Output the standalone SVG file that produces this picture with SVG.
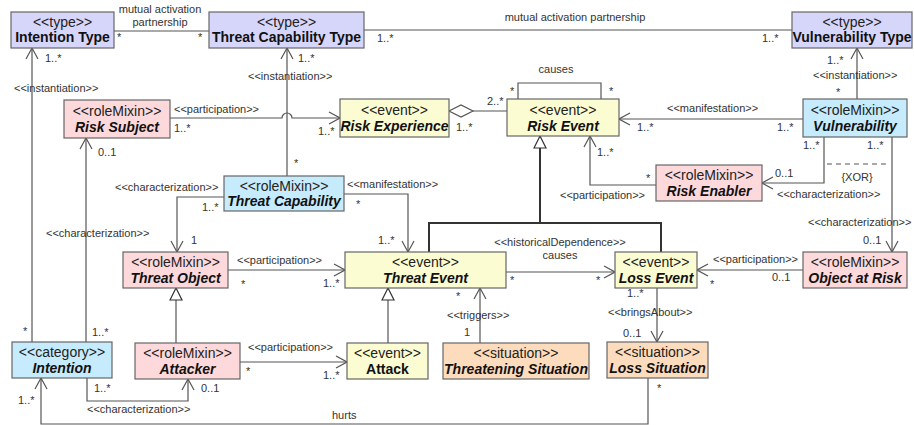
<svg xmlns="http://www.w3.org/2000/svg" width="914" height="425" viewBox="0 0 914 425">
  <style>
    .box { stroke: #666; stroke-width: 1.2; }
    .type { fill: #d6d6fa; }
    .role { fill: #fdd9dc; }
    .event { fill: #fcfcd2; }
    .cat { fill: #c6ebfc; }
    .sit { fill: #fddcbd; }
    .st { font-family: "Liberation Sans", Arial, sans-serif; font-size: 14px; fill: #222; text-anchor: middle; }
    .nm { font-family: "Liberation Sans", Arial, sans-serif; font-size: 14px; font-weight: bold; fill: #111; text-anchor: middle; }
    .it { font-style: italic; }
    .ln { fill: none; stroke: #555; stroke-width: 1.2; }
    .gen { fill: none; stroke: #333; stroke-width: 2; }
    .lb { font-family: "Liberation Sans", Arial, sans-serif; font-size: 11px; fill: #333; }
    .c { text-anchor: middle; }
  </style>
  <defs>
    <marker id="open" markerUnits="userSpaceOnUse" markerWidth="13" markerHeight="14" viewBox="0 0 13 14" refX="12" refY="7" orient="auto">
      <path d="M1,1 L12,7 L1,13" fill="none" stroke="#555" stroke-width="1.2"/>
    </marker>
    <marker id="tri" markerUnits="userSpaceOnUse" markerWidth="14" markerHeight="14" viewBox="0 0 14 14" refX="13" refY="7" orient="auto">
      <path d="M1,1 L13,7 L1,13 Z" fill="#fff" stroke="#333" stroke-width="1.2"/>
    </marker>
  </defs>

  <!-- connectors -->
  <g id="connectors">
    <path class="ln" d="M114,31 H209"/>
    <path class="ln" d="M364,30 H792"/>
    <path class="ln" d="M32,342 V48" marker-end="url(#open)"/>
    <path class="ln" d="M287,176 V48" marker-end="url(#open)"/>
    <path class="ln" d="M857,99 V48" marker-end="url(#open)"/>
    <path class="ln" d="M170,118 H282 A5,5 0 0 1 292,118 H340" marker-end="url(#open)"/>
    <path class="ln" d="M473,111 H507"/>
    <polygon points="449,111 461,105 473,111 461,117" fill="#fff" stroke="#555" stroke-width="1.2"/>
    <path class="ln" d="M518,99 V83 H601 V99"/>
    <path class="ln" d="M803,119 H619" marker-end="url(#open)"/>
    <path class="ln" d="M656,185 H590 V136" marker-end="url(#open)"/>
    <path class="ln" d="M824,137 V183 H762" marker-end="url(#open)"/>
    <path class="ln" d="M892,137 V252" marker-end="url(#open)"/>
    <path class="ln" d="M827,164 H886" stroke-dasharray="5,4"/>
    <path class="ln" d="M803,270 H697" marker-end="url(#open)"/>
    <path class="ln" d="M506,272 H615" marker-end="url(#open)"/>
    <path class="gen" d="M540,223 V136" marker-end="url(#tri)"/>
    <path class="gen" d="M429,252 V223 H661 V252"/>
    <path class="ln" d="M344,194 H408 V252" marker-end="url(#open)"/>
    <path class="ln" d="M224,197 H177 V252" marker-end="url(#open)"/>
    <path class="ln" d="M228,270 H345" marker-end="url(#open)"/>
    <path class="ln" d="M176,343 V288" marker-end="url(#tri)"/>
    <path class="ln" d="M240,362 H347" marker-end="url(#open)"/>
    <path class="ln" d="M388,343 V288" marker-end="url(#tri)"/>
    <path class="ln" d="M480,343 V288" marker-end="url(#open)"/>
    <path class="ln" d="M657,288 V342" marker-end="url(#open)"/>
    <path class="ln" d="M648,378 V424 H41 V378" marker-end="url(#open)"/>
    <path class="ln" d="M86,342 V138" marker-end="url(#open)"/>
    <path class="ln" d="M87,378 V401 H188 V379" marker-end="url(#open)"/>
  </g>

  <!-- connector labels and multiplicities -->
  <g id="connector-labels" class="lb">
    <text x="160" y="13" class="c">mutual activation</text>
    <text x="160" y="26" class="c">partnership</text>
    <text x="117" y="41">*</text>
    <text x="198" y="41">*</text>
    <text x="575" y="21" class="c">mutual activation partnership</text>
    <text x="377" y="42">1..*</text>
    <text x="762" y="42">1..*</text>

    <text x="45" y="62">1..*</text>
    <text x="14" y="92">&lt;&lt;instantiation&gt;&gt;</text>
    <text x="23" y="335">*</text>

    <text x="298" y="62">1..*</text>
    <text x="248" y="80">&lt;&lt;instantiation&gt;&gt;</text>
    <text x="294" y="167">*</text>

    <text x="827" y="64">1..*</text>
    <text x="813" y="79">&lt;&lt;instantiation&gt;&gt;</text>
    <text x="836" y="96">*</text>

    <text x="174" y="113">&lt;&lt;participation&gt;&gt;</text>
    <text x="174" y="132">1..*</text>
    <text x="318" y="135">1..*</text>

    <text x="487" y="105">2..*</text>
    <text x="456" y="131">1..*</text>

    <text x="556" y="73" class="c">causes</text>
    <text x="510" y="95">*</text>
    <text x="609" y="95">*</text>

    <text x="667" y="112">&lt;&lt;manifestation&gt;&gt;</text>
    <text x="637" y="131">1..*</text>
    <text x="777" y="131">1..*</text>

    <text x="597" y="156">1..*</text>
    <text x="646" y="182">*</text>
    <text x="560" y="199">&lt;&lt;participation&gt;&gt;</text>

    <text x="803" y="149">1..*</text>
    <text x="775" y="177">0..1</text>
    <text x="777" y="198">&lt;&lt;characterization&gt;&gt;</text>

    <text x="867" y="149">1..*</text>
    <text x="857" y="181" class="c">{XOR}</text>
    <text x="808" y="226">&lt;&lt;characterization&gt;&gt;</text>
    <text x="863" y="244">0..1</text>

    <text x="713" y="263">&lt;&lt;participation&gt;&gt;</text>
    <text x="772" y="281">0..1</text>
    <text x="710" y="288">*</text>

    <text x="560" y="246" class="c">&lt;&lt;historicalDependence&gt;&gt;</text>
    <text x="560" y="259" class="c">causes</text>
    <text x="510" y="284">*</text>
    <text x="596" y="284">*</text>

    <text x="347" y="188">&lt;&lt;manifestation&gt;&gt;</text>
    <text x="356" y="208">*</text>
    <text x="378" y="244">1..*</text>

    <text x="115" y="191">&lt;&lt;characterization&gt;&gt;</text>
    <text x="202" y="211">1..*</text>
    <text x="191" y="244">1</text>

    <text x="237" y="264">&lt;&lt;participation&gt;&gt;</text>
    <text x="241" y="288">*</text>
    <text x="323" y="287">1..*</text>

    <text x="248" y="351">&lt;&lt;participation&gt;&gt;</text>
    <text x="246" y="375">*</text>
    <text x="323" y="379">1..*</text>

    <text x="456" y="300">*</text>
    <text x="447" y="319">&lt;&lt;triggers&gt;&gt;</text>
    <text x="464" y="336">1</text>

    <text x="627" y="297">1..*</text>
    <text x="608" y="316">&lt;&lt;bringsAbout&gt;&gt;</text>
    <text x="623" y="337">0..1</text>

    <text x="332" y="419">hurts</text>
    <text x="657" y="392">*</text>
    <text x="18" y="404">1..*</text>

    <text x="98" y="156">0..1</text>
    <text x="46" y="237">&lt;&lt;characterization&gt;&gt;</text>
    <text x="92" y="336">1..*</text>

    <text x="94" y="392">1..*</text>
    <text x="201" y="392">0..1</text>
    <text x="87" y="413">&lt;&lt;characterization&gt;&gt;</text>
  </g>

  <!-- nodes -->
  <g id="intention-type">
    <rect class="box type" x="11" y="12" width="103" height="36"/>
    <text class="st" x="62.5" y="27">&lt;&lt;type&gt;&gt;</text>
    <text class="nm" x="62.5" y="42">Intention Type</text>
  </g>
  <g id="threat-capability-type">
    <rect class="box type" x="209" y="12" width="155" height="36"/>
    <text class="st" x="286.5" y="27">&lt;&lt;type&gt;&gt;</text>
    <text class="nm" x="286.5" y="42">Threat Capability Type</text>
  </g>
  <g id="vulnerability-type">
    <rect class="box type" x="792" y="12" width="120" height="36"/>
    <text class="st" x="852" y="27">&lt;&lt;type&gt;&gt;</text>
    <text class="nm" x="852" y="42" font-size="13.5">Vulnerability Type</text>
  </g>
  <g id="risk-subject">
    <rect class="box role" x="64" y="100" width="106" height="38"/>
    <text class="st" x="117" y="116">&lt;&lt;roleMixin&gt;&gt;</text>
    <text class="nm it" x="117" y="132">Risk Subject</text>
  </g>
  <g id="risk-experience">
    <rect class="box event" x="340" y="99" width="109" height="38"/>
    <text class="st" x="394.5" y="115">&lt;&lt;event&gt;&gt;</text>
    <text class="nm it" x="394.5" y="131">Risk Experience</text>
  </g>
  <g id="risk-event">
    <rect class="box event" x="507" y="99" width="112" height="37"/>
    <text class="st" x="563" y="115">&lt;&lt;event&gt;&gt;</text>
    <text class="nm it" x="563" y="131">Risk Event</text>
  </g>
  <g id="vulnerability">
    <rect class="box cat" x="803" y="99" width="104" height="38"/>
    <text class="st" x="855" y="115">&lt;&lt;roleMixin&gt;&gt;</text>
    <text class="nm it" x="855" y="131">Vulnerability</text>
  </g>
  <g id="risk-enabler">
    <rect class="box role" x="656" y="165" width="106" height="36"/>
    <text class="st" x="709" y="180">&lt;&lt;roleMixin&gt;&gt;</text>
    <text class="nm it" x="709" y="196">Risk Enabler</text>
  </g>
  <g id="threat-capability">
    <rect class="box cat" x="224" y="176" width="120" height="35"/>
    <text class="st" x="284" y="191">&lt;&lt;roleMixin&gt;&gt;</text>
    <text class="nm it" x="284" y="206">Threat Capability</text>
  </g>
  <g id="threat-object">
    <rect class="box role" x="123" y="252" width="105" height="36"/>
    <text class="st" x="175.5" y="267">&lt;&lt;roleMixin&gt;&gt;</text>
    <text class="nm it" x="175.5" y="283">Threat Object</text>
  </g>
  <g id="threat-event">
    <rect class="box event" x="345" y="252" width="161" height="36"/>
    <text class="st" x="425.5" y="267">&lt;&lt;event&gt;&gt;</text>
    <text class="nm it" x="425.5" y="283">Threat Event</text>
  </g>
  <g id="loss-event">
    <rect class="box event" x="615" y="252" width="82" height="36"/>
    <text class="st" x="656" y="267">&lt;&lt;event&gt;&gt;</text>
    <text class="nm it" x="656" y="283">Loss Event</text>
  </g>
  <g id="object-at-risk">
    <rect class="box role" x="803" y="252" width="104" height="36"/>
    <text class="st" x="855" y="267">&lt;&lt;roleMixin&gt;&gt;</text>
    <text class="nm it" x="855" y="283">Object at Risk</text>
  </g>
  <g id="intention">
    <rect class="box cat" x="12" y="342" width="100" height="36"/>
    <text class="st" x="62" y="357">&lt;&lt;category&gt;&gt;</text>
    <text class="nm it" x="62" y="373">Intention</text>
  </g>
  <g id="attacker">
    <rect class="box role" x="135" y="343" width="105" height="36"/>
    <text class="st" x="187.5" y="358">&lt;&lt;roleMixin&gt;&gt;</text>
    <text class="nm it" x="187.5" y="374">Attacker</text>
  </g>
  <g id="attack">
    <rect class="box event" x="347" y="343" width="81" height="36"/>
    <text class="st" x="387.5" y="358">&lt;&lt;event&gt;&gt;</text>
    <text class="nm" x="387.5" y="374">Attack</text>
  </g>
  <g id="threatening-situation">
    <rect class="box sit" x="443" y="343" width="146" height="36"/>
    <text class="st" x="516" y="358">&lt;&lt;situation&gt;&gt;</text>
    <text class="nm it" x="516" y="374">Threatening Situation</text>
  </g>
  <g id="loss-situation">
    <rect class="box sit" x="607" y="342" width="101" height="36"/>
    <text class="st" x="657.5" y="357">&lt;&lt;situation&gt;&gt;</text>
    <text class="nm it" x="657.5" y="373">Loss Situation</text>
  </g>
</svg>
